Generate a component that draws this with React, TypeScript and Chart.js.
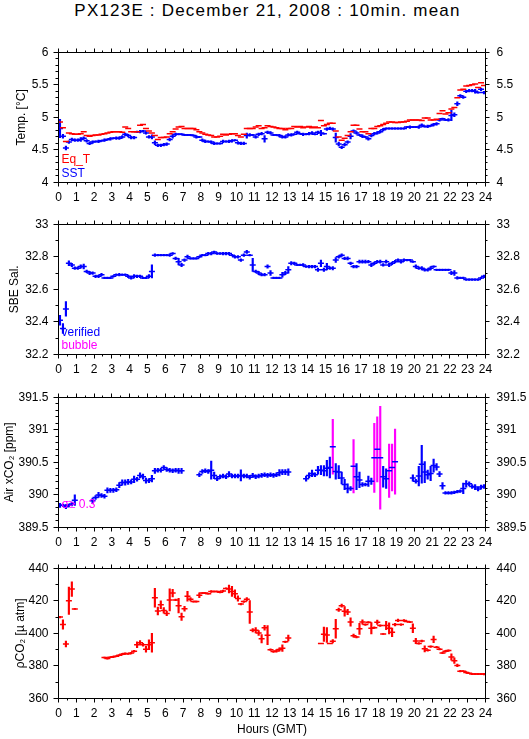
import React, { useEffect, useRef } from "react";
import { Chart, registerables } from "chart.js";

Chart.register(...registerables);

const FONT = "'Liberation Sans', Arial, Helvetica, sans-serif";
Chart.defaults.font.family = FONT;
Chart.defaults.color = "#000";

const RED = "#ff0000";
const BLUE = "#0000ff";
const MAGENTA = "#ff00ff";

// ---------- categories / tick labels ----------
const HOUR_TICKS = [0, 1, 2, 3, 4, 5, 6, 7, 8, 9, 10, 11, 12, 13, 14, 15, 16, 17, 18, 19, 20, 21, 22, 23, 24];
// 10-minute means, centred in each bin (hours GMT)
const SLOT_HOURS = Array.from({ length: 144 }, (_, i) => (i * 10 + 5) / 60);

const TEMP_TICKS = [4, 4.5, 5, 5.5, 6];
const SAL_TICKS = [32.2, 32.4, 32.6, 32.8, 33];
const XCO2_TICKS = [389.5, 390, 390.5, 391, 391.5];
const PCO2_TICKS = [360, 380, 400, 420, 440];

// ---------- series ----------
const EQ_T = [
  4.93, 4.84, 4.63, 4.76, 4.75, 4.74,
  4.74, 4.75, 4.78, 4.72, 4.71, 4.72,
  4.73, 4.73, 4.74, 4.75, 4.76, 4.77,
  4.78, 4.78, 4.78, 4.77, 4.85, 4.83,
  4.78, 4.78, 4.78, 4.88, 4.89, 4.83,
  4.79, 4.76, 4.72, 4.66, 4.69, 4.69,
  4.70, 4.75, 4.78, 4.82, 4.85, 4.86,
  4.83, 4.83, 4.83, 4.83, 4.81, 4.78,
  4.76, 4.74, 4.73, 4.72, 4.70, 4.70,
  4.71, 4.74, 4.73, 4.74, 4.75, 4.75,
  4.72, 4.70, 4.74, 4.83, 4.83, 4.83,
  4.85, 4.87, 4.83, 4.84, 4.87, 4.86,
  4.85, 4.84, 4.83, 4.83, 4.81, 4.83,
  4.83, 4.86, 4.85, 4.86, 4.84, 4.85,
  4.86, 4.84, 4.85, 4.84, 4.95, 4.87,
  4.89, 4.91, 4.91, 4.79, 4.70, 4.65,
  4.68, 4.72, 4.78, 4.88, 4.88, 4.82,
  4.78, 4.78, 4.75, 4.83, 4.83, 4.86,
  4.87, 4.89, 4.91, 4.93, 4.93, 4.92,
  4.92, 4.93, 4.93, 4.94, 4.96, 4.96,
  4.96, 4.96, 4.95, 4.99, 4.99, 4.96,
  4.96, 4.97, 5.06, 5.10, 5.05, 5.07,
  5.13, 5.15, 5.30, 5.42, 5.43, 5.48,
  5.49, 5.50, 5.51, 5.46, 5.53, 5.49,
];

const SST = [
  4.83, 4.71, 4.53, 4.62, 4.66, 4.65,
  4.65, 4.66, 4.68, 4.64, 4.60, 4.62,
  4.63, 4.63, 4.64, 4.65, 4.66, 4.67,
  4.68, 4.68, 4.68, 4.70, 4.74, 4.72,
  4.69, 4.69, 4.78, 4.78, 4.79, 4.76,
  4.70, 4.70, 4.61, 4.57, 4.57, 4.58,
  4.59, 4.66, 4.71, 4.74, 4.74, 4.74,
  4.73, 4.73, 4.73, 4.72, 4.70, 4.70,
  4.65, 4.63, 4.63, 4.62, 4.60, 4.60,
  4.60, 4.63, 4.63, 4.63, 4.64, 4.65,
  4.61, 4.60, 4.60, 4.72, 4.73, 4.73,
  4.70, 4.74, 4.75, 4.67, 4.77, 4.76,
  4.73, 4.73, 4.72, 4.70, 4.70, 4.73,
  4.73, 4.74, 4.77, 4.75, 4.74, 4.74,
  4.75, 4.76, 4.74, 4.77, 4.76, 4.75,
  4.82, 4.83, 4.82, 4.69, 4.59, 4.54,
  4.58, 4.62, 4.71, 4.79, 4.76, 4.73,
  4.71, 4.70, 4.67, 4.72, 4.75, 4.76,
  4.78, 4.81, 4.83, 4.83, 4.83, 4.83,
  4.83, 4.83, 4.83, 4.85, 4.85, 4.85,
  4.85, 4.85, 4.88, 4.86, 4.86, 4.87,
  4.89, 4.90, 4.96, 4.98, 4.96, 4.96,
  5.03, 5.04, 5.21, 5.33, 5.31, 5.40,
  5.41, 5.41, 5.40, 5.38, 5.43, 5.38,
];

const SST_SD = [
  0.14, 0.03, 0.03, 0.02, 0.02, 0.02,
  0.02, 0.03, 0.02, 0.02, 0.02, 0.02,
  0.01, 0.02, 0.01, 0.02, 0.01, 0.02,
  0.01, 0.02, 0.02, 0.02, 0.02, 0.02,
  0.02, 0.02, 0.01, 0.02, 0.01, 0.02,
  0.02, 0.03, 0.03, 0.02, 0.02, 0.02,
  0.02, 0.02, 0.03, 0.02, 0.01, 0.01,
  0.01, 0.01, 0.01, 0.01, 0.02, 0.01,
  0.02, 0.02, 0.01, 0.02, 0.02, 0.01,
  0.01, 0.02, 0.01, 0.02, 0.02, 0.01,
  0.02, 0.02, 0.02, 0.04, 0.02, 0.01,
  0.02, 0.02, 0.02, 0.05, 0.02, 0.02,
  0.01, 0.01, 0.02, 0.02, 0.02, 0.02,
  0.02, 0.01, 0.02, 0.01, 0.02, 0.01,
  0.02, 0.02, 0.01, 0.02, 0.04, 0.01,
  0.02, 0.02, 0.02, 0.07, 0.03, 0.02,
  0.02, 0.02, 0.04, 0.02, 0.02, 0.01,
  0.02, 0.01, 0.02, 0.02, 0.02, 0.02,
  0.02, 0.02, 0.01, 0.01, 0.01, 0.01,
  0.01, 0.01, 0.01, 0.01, 0.02, 0.01,
  0.01, 0.02, 0.02, 0.01, 0.02, 0.01,
  0.02, 0.02, 0.02, 0.01, 0.01, 0.02,
  0.08, 0.03, 0.03, 0.02, 0.02, 0.02,
  0.02, 0.02, 0.03, 0.01, 0.02, 0.02,
];

const SAL = [
  32.41, 32.36, 32.48, 32.76, 32.75, 32.73,
  32.73, 32.74, 32.74, 32.71, 32.70, 32.70,
  32.68, 32.68, 32.69, 32.67, 32.67, 32.67,
  32.68, 32.69, 32.69, 32.69, 32.69, 32.68,
  32.67, 32.68, 32.68, 32.68, 32.67, 32.67,
  32.68, 32.71, 32.81, 32.81, 32.81, 32.81,
  32.81, 32.81, 32.82, 32.79, 32.77, 32.75,
  32.78, 32.80, 32.79, 32.79, 32.79, 32.80,
  32.81, 32.81, 32.82, 32.82, 32.83, 32.82,
  32.82, 32.82, 32.82, 32.82, 32.81, 32.80,
  32.80, 32.78, 32.81, 32.83, 32.81, 32.75,
  32.71, 32.70, 32.69, 32.69, 32.74, 32.70,
  32.67, 32.67, 32.67, 32.69, 32.70, 32.72,
  32.76, 32.76, 32.75, 32.75, 32.75, 32.74,
  32.74, 32.74, 32.74, 32.72, 32.76, 32.72,
  32.74, 32.73, 32.73, 32.78, 32.80, 32.81,
  32.79, 32.79, 32.76, 32.74, 32.74, 32.77,
  32.77, 32.77, 32.77, 32.75, 32.76, 32.77,
  32.77, 32.75, 32.77, 32.75, 32.76, 32.77,
  32.78, 32.77, 32.78, 32.78, 32.78, 32.77,
  32.74, 32.73, 32.73, 32.72, 32.72, 32.73,
  32.74, 32.72, 32.72, 32.72, 32.72, 32.72,
  32.70, 32.70, 32.67, 32.67, 32.67, 32.66,
  32.66, 32.66, 32.66, 32.66, 32.67, 32.68,
];

const SAL_SD = [
  0.03, 0.03, 0.045, 0.015, 0.01, 0.008,
  0.008, 0.01, 0.015, 0.008, 0.01, 0.008,
  0.008, 0.008, 0.008, 0.005, 0.005, 0.005,
  0.005, 0.005, 0.008, 0.005, 0.005, 0.008,
  0.008, 0.01, 0.008, 0.008, 0.005, 0.005,
  0.01, 0.04, 0.008, 0.005, 0.005, 0.005,
  0.005, 0.008, 0.005, 0.008, 0.02, 0.01,
  0.008, 0.01, 0.005, 0.005, 0.005, 0.005,
  0.005, 0.005, 0.008, 0.008, 0.005, 0.005,
  0.005, 0.008, 0.008, 0.008, 0.005, 0.008,
  0.008, 0.008, 0.008, 0.01, 0.005, 0.04,
  0.008, 0.01, 0.008, 0.008, 0.01, 0.015,
  0.005, 0.005, 0.005, 0.015, 0.01, 0.02,
  0.01, 0.008, 0.005, 0.005, 0.008, 0.005,
  0.008, 0.008, 0.008, 0.01, 0.02, 0.01,
  0.02, 0.008, 0.01, 0.015, 0.008, 0.008,
  0.008, 0.01, 0.008, 0.008, 0.008, 0.01,
  0.01, 0.01, 0.008, 0.01, 0.008, 0.008,
  0.01, 0.008, 0.01, 0.01, 0.008, 0.008,
  0.008, 0.01, 0.008, 0.005, 0.005, 0.005,
  0.01, 0.008, 0.01, 0.008, 0.008, 0.01,
  0.005, 0.005, 0.005, 0.005, 0.005, 0.005,
  0.01, 0.015, 0.008, 0.005, 0.005, 0.005,
  0.005, 0.005, 0.005, 0.005, 0.005, 0.008,
];

const N = null;
const XCO2 = [
  389.84, 389.84, 389.82, 389.84, 389.86, 389.92,
  N, N, N, N, N, 389.91,
  389.96, 390.0, 389.99, 389.98, 390.07, 390.07,
  390.07, 390.08, 390.15, 390.19, 390.19, 390.2,
  390.2, 390.24, 390.24, 390.3, 390.28, 390.22,
  390.22, 390.25, 390.37, 390.38, 390.38, 390.42,
  390.39, 390.38, 390.37, 390.38, 390.37, 390.37,
  N, N, N, N, N, 390.31,
  390.36, 390.37, 390.36, 390.38, 390.3, 390.25,
  390.28, 390.29, 390.28, 390.32, 390.29, 390.29,
  390.29, 390.3, 390.29, 390.29, 390.27, 390.3,
  390.28, 390.29, 390.3, 390.31, 390.3, 390.31,
  390.3, 390.31, 390.34, 390.35, 390.35, 390.35,
  N, N, N, N, N, 390.25,
  390.3, 390.33, 390.31, 390.38, 390.38, 390.37,
  390.41, 390.42, 390.74, 390.36, 390.35, 390.26,
  390.16, 390.1, 390.1, 390.44, 390.28, 390.23,
  390.16, 390.16, 390.21, 390.21, 390.57, 390.7,
  390.57, 390.28, 390.25, 390.37, 390.42, 390.51,
  N, N, N, N, N, 390.26,
  390.21, 390.29, 390.47, 390.35, 390.31, 390.33,
  390.45, 390.43, 390.32, 390.14, 390.03, 390.03,
  390.03, 390.04, 390.05, 390.06, 390.1, 390.17,
  390.17, 390.13, 390.12, 390.09, 390.12, 390.13,
];

const XCO2_SD = [
  0.03, 0.02, 0.03, 0.02, 0.03, 0.08,
  0, 0, 0, 0, 0, 0.04,
  0.03, 0.04, 0.03, 0.03, 0.04, 0.03,
  0.03, 0.03, 0.04, 0.04, 0.04, 0.04,
  0.03, 0.05, 0.03, 0.04, 0.04, 0.04,
  0.03, 0.05, 0.04, 0.03, 0.03, 0.03,
  0.03, 0.03, 0.03, 0.03, 0.04, 0.04,
  0, 0, 0, 0, 0, 0.03,
  0.03, 0.03, 0.03, 0.14, 0.05, 0.03,
  0.03, 0.03, 0.03, 0.04, 0.03, 0.03,
  0.03, 0.085, 0.03, 0.03, 0.03, 0.03,
  0.03, 0.03, 0.03, 0.03, 0.03, 0.03,
  0.03, 0.03, 0.05, 0.04, 0.04, 0.05,
  0, 0, 0, 0, 0, 0.04,
  0.04, 0.05, 0.03, 0.06, 0.07, 0.08,
  0.12, 0.16, 0.42, 0.12, 0.1, 0.09,
  0.08, 0.07, 0.03, 0.41, 0.2, 0.12,
  0.03, 0.02, 0.08, 0.05, 0.53, 0.5,
  0.79, 0.16, 0.15, 0.41, 0.36, 0.5,
  0, 0, 0, 0, 0, 0.05,
  0.03, 0.15, 0.29, 0.16, 0.07, 0.11,
  0.1, 0.05, 0.04, 0.05, 0.02, 0.02,
  0.02, 0.02, 0.02, 0.02, 0.08, 0.05,
  0.03, 0.03, 0.04, 0.03, 0.03, 0.03,
];
const XCO2_SD_FLAG = 0.3;

const PCO2 = [
  410.0, 405.4, 393.4, 420.0, 427.2, 415.0,
  N, N, N, N, N, N,
  N, N, N, 385.1, 384.6, 385.3,
  385.6, 386.0, 386.6, 387.2, 387.6, 387.4,
  387.9, 389.0, 393.0, 394.3, 393.0, 390.3,
  393.0, 394.2, 421.8, 413.7, 417.6, 414.1,
  412.2, 420.5, 424.7, 420.5, 417.0, 410.2,
  415.1, 422.8, 420.9, 419.5, 419.5, 423.4,
  424.7, 424.7, 424.3, 425.7, 425.7, 425.7,
  425.3, 426.0, 427.6, 427.2, 425.7, 424.3,
  421.4, 418.0, 419.5, 420.9, 413.1, 401.9,
  401.9, 400.2, 396.7, 403.5, 398.9, 390.0,
  388.8, 389.2, 390.1, 390.9, 394.8, 397.2,
  N, N, N, N, N, N,
  N, N, N, N, 393.8, 399.5,
  399.0, 393.8, 395.1, 402.8, 414.5, 417.0,
  413.5, 413.1, 407.0, 398.6, 397.7, 402.8,
  407.0, 405.4, 406.8, 403.1, 403.5, 406.8,
  404.8, 399.6, 404.8, 403.1, 400.6, 405.4,
  407.9, 405.4, 407.9, 407.3, 406.9, 403.1,
  395.3, 393.8, 395.3, 390.5, 389.6, 391.9,
  396.3, 391.5, 390.3, 388.0, 389.0, 389.4,
  385.5, 383.2, 380.3, 376.8, 376.8, 376.0,
  375.5, 375.0, 375.0, 375.0, 375.0, 375.0,
];

const PCO2_SD = [
  0.5, 2.9, 1.8, 8.4, 4.5, 0.3,
  0, 0, 0, 0, 0, 0,
  0, 0, 0, 0.3, 0.5, 0.3,
  0.5, 0.3, 0.3, 0.5, 0.5, 0.3,
  0.5, 0.5, 1.8, 1.2, 0.8, 1.8,
  3.0, 5.8, 5.8, 2.4, 2.4, 1.7,
  1.4, 6.8, 2.4, 0.5, 4.5, 2.2,
  1.5, 3.0, 1.0, 0.3, 0.3, 1.5,
  0.3, 0.3, 0.3, 0.5, 0.3, 0.3,
  0.5, 0.5, 0.3, 2.4, 3.1, 2.4,
  1.6, 0.5, 0.5, 1.0, 7.0, 1.0,
  1.6, 1.5, 2.6, 1.5, 5.8, 0.5,
  0.5, 0.8, 1.0, 2.0, 0.5, 1.8,
  0, 0, 0, 0, 0, 0,
  0, 0, 0, 0, 0, 4.4,
  4.5, 0, 1.0, 5.8, 1.0, 1.0,
  3.0, 1.7, 2.6, 1.0, 0.5, 3.4,
  1.3, 0.5, 0.5, 3.5, 0.5, 1.3,
  0.5, 0.3, 2.6, 3.4, 2.6, 0.8,
  0.8, 0.5, 0.5, 0.3, 0.3, 2.7,
  1.6, 0.5, 0.5, 1.9, 0.5, 0.5,
  2.0, 0.5, 0.5, 0.5, 0.5, 0.5,
  1.9, 1.7, 0.8, 0.5, 0.3, 0.5,
  0.3, 0.3, 0.3, 0.3, 0.3, 0.5,
];

// ---------- dataset builders ----------
function dashSet(values: (number | null)[], color: string) {
  const pts: { x: number; y: number }[] = [];
  values.forEach((v, i) => {
    if (v == null) return;
    pts.push({ x: SLOT_HOURS[i], y: v });
  });
  return {
    type: "scatter",
    data: pts,
    showLine: false,
    pointStyle: "line",
    pointRadius: 3,
    pointHoverRadius: 3,
    pointBorderWidth: 1.5,
    pointBorderColor: color,
    pointBackgroundColor: color,
    order: 0,
  };
}

function errSet(values: (number | null)[], sds: number[], colorOf: (sd: number) => string) {
  const pts: { x: number; y: number[] }[] = [];
  const cols: string[] = [];
  values.forEach((v, i) => {
    const s = sds[i];
    if (v == null || !s) return;
    pts.push({ x: SLOT_HOURS[i], y: [v - s, v + s] });
    cols.push(colorOf(s));
  });
  return {
    type: "bar",
    data: pts,
    backgroundColor: cols,
    borderWidth: 0,
    barThickness: 1.5,
    grouped: false,
    order: 1,
  };
}

// ---------- axis frame, tick marks and in-plot legends ----------
const framePlugin = {
  id: "frameTicks",
  afterDatasetsDraw(chart: any, _args: any, opts: any) {
    const { ctx, chartArea: a, scales } = chart;
    const x = scales.x;
    const y = scales.y;
    const snap = (v: number) => Math.round(v - 0.5) + 0.5;
    ctx.save();
    ctx.strokeStyle = "#000";
    ctx.lineWidth = 1;
    ctx.beginPath();
    const L = snap(a.left), R = snap(a.right), T = snap(a.top), B = snap(a.bottom);
    ctx.rect(L, T, R - L, B - T);
    for (let k = 0; k <= 48; k++) {
      const px = snap(x.getPixelForValue(k / 2));
      const len = k % 2 === 0 ? 4 : 2;
      ctx.moveTo(px, T);
      ctx.lineTo(px, T - len);
      ctx.moveTo(px, B);
      ctx.lineTo(px, B + len);
    }
    const n = Math.round((y.max - y.min) / opts.minor);
    for (let k = 0; k <= n; k++) {
      const py = snap(y.getPixelForValue(y.min + k * opts.minor));
      const major = k % opts.ratio === 0;
      ctx.moveTo(L, py);
      ctx.lineTo(L - (major ? 5 : 3), py);
      ctx.moveTo(R, py);
      ctx.lineTo(R + (major ? 4 : 2), py);
    }
    ctx.stroke();
    ctx.font = `12px ${FONT}`;
    ctx.textAlign = "left";
    ctx.textBaseline = "alphabetic";
    (opts.labels || []).forEach((l: any) => {
      ctx.fillStyle = l.color;
      ctx.fillText(l.text, a.left + 3, a.bottom + l.dy);
    });
    ctx.restore();
  },
};

type PanelDef = {
  top: number;
  bottomSpace: number;
  yTicks: number[];
  minor: number;
  ratio: number;
  yTitle: string;
  yTitlePad: number;
  datasets: any[];
  labels: { text: string; color: string; dy: number }[];
  xTitle?: string;
};

const PANEL_H = 138;
const PAD_TOP = 10;

const PANELS: PanelDef[] = [
  {
    top: 44, bottomSpace: 22, yTicks: TEMP_TICKS, minor: 0.1, ratio: 5,
    yTitle: "Temp. [°C]", yTitlePad: 14,
    datasets: [dashSet(EQ_T, RED), dashSet(SST, BLUE), errSet(SST, SST_SD, () => BLUE)],
    labels: [
      { text: "Eq_T", color: RED, dy: -20 },
      { text: "SST", color: BLUE, dy: -6 },
    ],
  },
  {
    top: 216, bottomSpace: 22, yTicks: SAL_TICKS, minor: 0.1, ratio: 2,
    yTitle: "SBE Sal.", yTitlePad: 7,
    datasets: [dashSet(SAL, BLUE), errSet(SAL, SAL_SD, () => BLUE)],
    labels: [
      { text: "verified", color: BLUE, dy: -18.5 },
      { text: "bubble", color: MAGENTA, dy: -5.5 },
    ],
  },
  {
    top: 389, bottomSpace: 22, yTicks: XCO2_TICKS, minor: 0.1, ratio: 5,
    yTitle: "Air xCO₂ [ppm]", yTitlePad: 2,
    datasets: [
      dashSet(XCO2, BLUE),
      errSet(XCO2, XCO2_SD, (s) => (s >= XCO2_SD_FLAG ? MAGENTA : BLUE)),
    ],
    labels: [{ text: "σ≥ 0.3", color: MAGENTA, dy: -20 }],
  },
  {
    top: 560, bottomSpace: 41, yTicks: PCO2_TICKS, minor: 10, ratio: 2,
    yTitle: "ρCO₂ [µ atm]", yTitlePad: 13,
    datasets: [dashSet(PCO2, RED), errSet(PCO2, PCO2_SD, () => RED)],
    labels: [],
    xTitle: "Hours (GMT)",
  },
];

function buildConfig(p: PanelDef): any {
  const font = { family: FONT, size: 12 };
  const yCommon = {
    type: "linear",
    min: p.yTicks[0],
    max: p.yTicks[p.yTicks.length - 1],
    beginAtZero: false,
    grid: { display: false, drawTicks: false },
    border: { display: false },
    afterBuildTicks: (s: any) => {
      s.ticks = p.yTicks.map((v) => ({ value: v }));
    },
  };
  return {
    type: "scatter",
    data: { datasets: p.datasets },
    options: {
      responsive: false,
      animation: false,
      devicePixelRatio: 1,
      events: [],
      layout: { padding: { top: PAD_TOP + 0.5, left: 0, right: 0, bottom: 0 } },
      plugins: {
        legend: { display: false },
        tooltip: { enabled: false },
        frameTicks: { minor: p.minor, ratio: p.ratio, labels: p.labels },
      },
      scales: {
        x: {
          type: "linear",
          position: "bottom",
          min: 0,
          max: 24,
          offset: false,
          grid: { display: false, drawTicks: false, offset: false },
          border: { display: false },
          afterBuildTicks: (s: any) => {
            s.ticks = HOUR_TICKS.map((v) => ({ value: v }));
          },
          ticks: { autoSkip: false, maxRotation: 0, minRotation: 0, padding: 8, font, color: "#000", callback: (v: any) => String(v) },
          title: p.xTitle
            ? { display: true, text: p.xTitle, font, color: "#000", padding: { top: 0, bottom: 2 } }
            : { display: false },
          afterFit: (s: any) => {
            s.height = p.bottomSpace - 0.5;
          },
        },
        y: {
          ...yCommon,
          position: "left",
          ticks: { padding: 10, font, color: "#000", callback: (v: any) => String(v) },
          title: { display: true, text: p.yTitle, font, color: "#000", padding: { top: p.yTitlePad, bottom: 0 } },
          afterFit: (s: any) => {
            s.width = 58.5;
          },
        },
        y2: {
          ...yCommon,
          position: "right",
          ticks: { padding: 11, font, color: "#000", callback: (v: any) => String(v) },
          afterFit: (s: any) => {
            s.width = 43.5;
          },
        },
      },
    },
    plugins: [framePlugin],
  };
}

function Panel({ def }: { def: PanelDef }) {
  const ref = useRef<HTMLCanvasElement>(null);
  const top = def.top - PAD_TOP;
  const h = PANEL_H + PAD_TOP + def.bottomSpace;
  useEffect(() => {
    const chart = new Chart(ref.current as HTMLCanvasElement, buildConfig(def));
    return () => chart.destroy();
  }, []);
  return (
    <canvas
      ref={ref}
      width={529}
      height={h}
      style={{ position: "absolute", left: 0, top, width: 529, height: h }}
    />
  );
}

export default function App() {
  return (
    <div style={{ position: "absolute", left: 0, top: 0, width: 529, height: 739, background: "#fff", overflow: "hidden" }}>
      <div
        style={{
          position: "absolute",
          left: 0,
          top: 2,
          width: 535,
          textAlign: "center",
          fontFamily: FONT,
          fontSize: 17,
          lineHeight: "17px",
          letterSpacing: "1.2px",
          color: "#000",
          whiteSpace: "nowrap",
        }}
      >
        PX123E : December 21, 2008 : 10min. mean
      </div>
      {PANELS.map((p, i) => (
        <Panel key={i} def={p} />
      ))}
    </div>
  );
}
